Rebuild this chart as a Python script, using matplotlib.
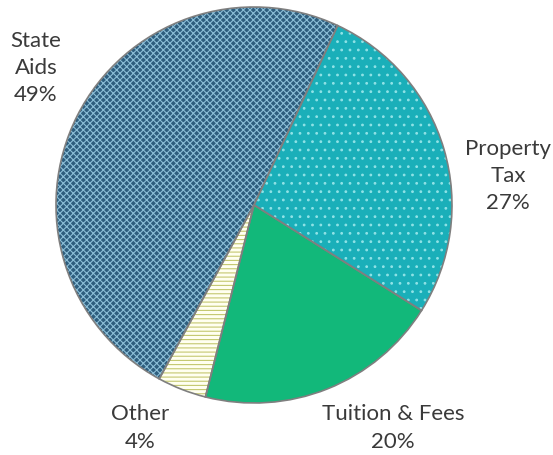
import matplotlib.pyplot as plt

# Fuentes de ingreso (porcentajes)
categorias = ['Property\nTax', 'Tuition & Fees', 'Other', 'State\nAids']
valores = [27, 20, 4, 49]
colores = ['#1aafb9', '#12b87a', '#fffff0', '#2e5e7e']
tramas = ['..', '', '----', 'xxxxx']
color_trama = ['#8fe2e6', '#12b87a', '#c4c870', '#8cbfd8']

plt.rcParams['font.family'] = ['Lato', 'DejaVu Sans']
plt.rcParams['hatch.linewidth'] = 0.8

fig = plt.figure(figsize=(5.53, 4.56), dpi=100)
ax = fig.add_axes([0, 0, 1, 1])

centro = (254, 250)
radio = 198

# Relleno con tramas
cunas, _ = ax.pie(valores, colors=colores, startangle=65, counterclock=False,
                  center=centro, radius=radio, frame=True,
                  wedgeprops=dict(linewidth=0))
for w, h, c in zip(cunas, tramas, color_trama):
    w.set_hatch(h)
    w.set_edgecolor(c)

# Bordes grises
ax.pie(valores, colors=['none'] * 4, startangle=65, counterclock=False,
       center=centro, radius=radio, frame=True,
       wedgeprops=dict(linewidth=1.2, edgecolor='#7f7f7f'))
ax.set_xlim(0, 553)
ax.set_ylim(0, 456)
ax.axis('off')

# Etiquetas
posiciones = [(508, 280), (393, 28), (140, 28), (36, 388)]
for nombre, v, (x, y) in zip(categorias, valores, posiciones):
    ax.text(x, y, f'{nombre}\n{v}%', ha='center', va='center',
            fontsize=16, color='#3a3a3a', linespacing=1.45)

fig.savefig('out.png', dpi=100)
